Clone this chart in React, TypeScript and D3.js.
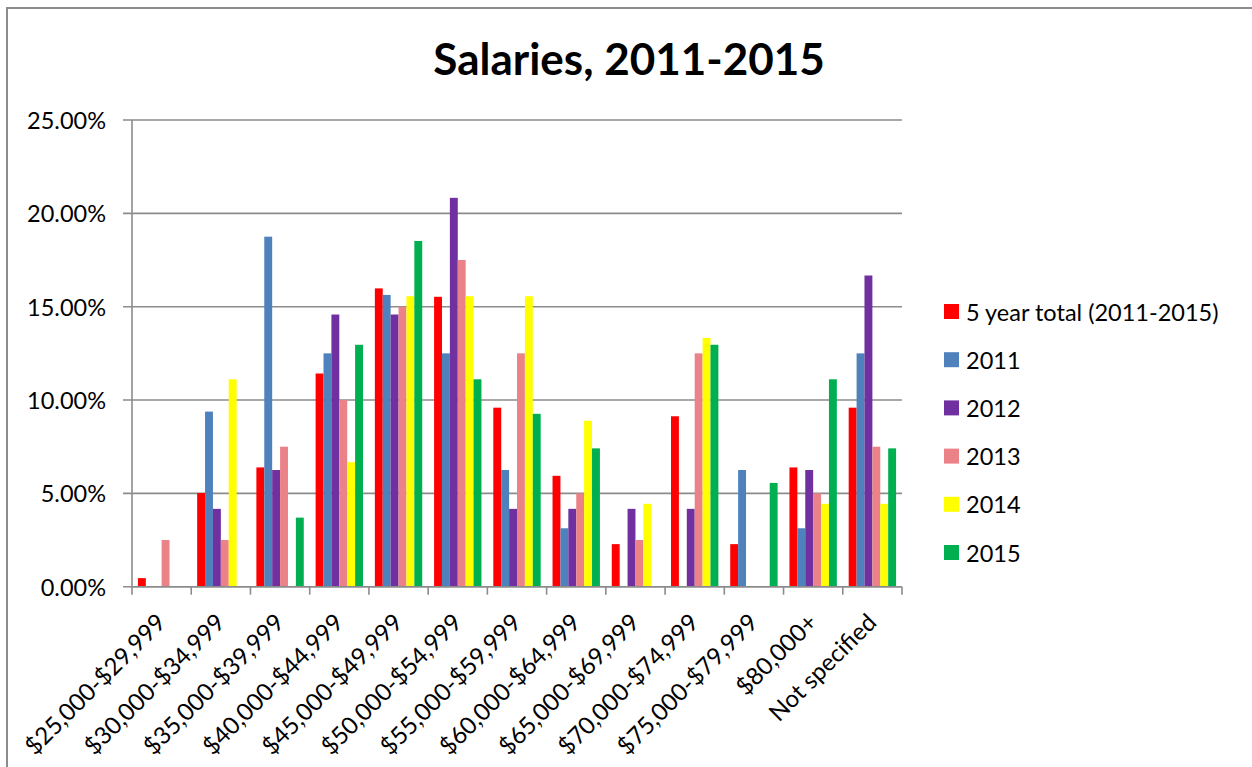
import React from "react";
import * as d3 from "d3";

// salary bands on the x axis
const categories = [
  "$25,000-$29,999",
  "$30,000-$34,999",
  "$35,000-$39,999",
  "$40,000-$44,999",
  "$45,000-$49,999",
  "$50,000-$54,999",
  "$55,000-$59,999",
  "$60,000-$64,999",
  "$65,000-$69,999",
  "$70,000-$74,999",
  "$75,000-$79,999",
  "$80,000+",
  "Not specified",
];

// percentages
const total5yr = [0.46, 5.02, 6.39, 11.42, 15.98, 15.53, 9.59, 5.94, 2.28, 9.13, 2.28, 6.39, 9.59];
const y2011 = [0, 9.38, 18.75, 12.5, 15.63, 12.5, 6.25, 3.13, 0, 0, 6.25, 3.13, 12.5];
const y2012 = [0, 4.17, 6.25, 14.58, 14.58, 20.83, 4.17, 4.17, 4.17, 4.17, 0, 6.25, 16.67];
const y2013 = [2.5, 2.5, 7.5, 10, 15, 17.5, 12.5, 5, 2.5, 12.5, 0, 5, 7.5];
const y2014 = [0, 11.11, 0, 6.67, 15.56, 15.56, 15.56, 8.89, 4.44, 13.33, 0, 4.44, 4.44];
const y2015 = [0, 0, 3.7, 12.96, 18.52, 11.11, 9.26, 7.41, 0, 12.96, 5.56, 11.11, 7.41];

const seriesNames = ["5 year total (2011-2015)", "2011", "2012", "2013", "2014", "2015"];
const seriesColors = ["#FF0000", "#4F81BD", "#7030A0", "#EB8288", "#FFFF00", "#00B050"];
const seriesValues = [total5yr, y2011, y2012, y2013, y2014, y2015];

const yTicks = [0, 5, 10, 15, 20, 25];

const FONT = "Lato, 'Open Sans', sans-serif";
const GRID = "#8c8c8c";

export default function App() {
  const left = 132;
  const right = 902;
  const top = 120;
  const bottom = 586.7;

  const x = d3.scaleBand<string>().domain(categories).range([left, right]);
  const bw = x.bandwidth() / 7.5;
  const xs = d3
    .scaleBand<number>()
    .domain(d3.range(seriesNames.length))
    .range([0.75 * bw, x.bandwidth() - 0.75 * bw]);
  const y = d3.scaleLinear().domain([0, 25]).range([bottom, top]);

  const boundaries = d3.range(categories.length + 1).map((i) => left + i * x.step());

  return (
    <div style={{ position: "absolute", left: 0, top: 0 }}>
      <svg width={1252} height={767} style={{ display: "block", background: "#fff" }}>
        <rect x={7} y={8} width={1300} height={800} fill="#fff" stroke={GRID} strokeWidth={2} />

        <text
          x={629}
          y={75}
          textAnchor="middle"
          fontFamily={FONT}
          fontWeight="bold"
          fontSize={44}
          fill="#000"
        >
          Salaries, 2011-2015
        </text>

        {/* gridlines + y labels */}
        {yTicks.map((t) => (
          <g key={t}>
            <line x1={left - 9} x2={right} y1={y(t)} y2={y(t)} stroke={GRID} strokeWidth={1.6} />
            <text
              x={106}
              y={y(t)}
              textAnchor="end"
              dominantBaseline="central"
              fontFamily={FONT}
              fontSize={23.5}
              fill="#000"
            >
              {t.toFixed(2)}%
            </text>
          </g>
        ))}

        {/* bars */}
        {categories.map((c, ci) => (
          <g key={c} transform={`translate(${x(c)},0)`}>
            {seriesValues.map((vals, si) =>
              vals[ci] > 0 ? (
                <rect
                  key={si}
                  x={xs(si)}
                  y={y(vals[ci])}
                  width={xs.bandwidth()}
                  height={y(0) - y(vals[ci])}
                  fill={seriesColors[si]}
                />
              ) : null
            )}
          </g>
        ))}

        {/* axes */}
        <line x1={left} x2={left} y1={top} y2={bottom} stroke={GRID} strokeWidth={1.6} />
        <line x1={left} x2={right} y1={bottom} y2={bottom} stroke={GRID} strokeWidth={1.6} />
        {boundaries.map((bx, i) => (
          <line key={i} x1={bx} x2={bx} y1={bottom} y2={bottom + 8} stroke={GRID} strokeWidth={1.6} />
        ))}

        {/* x labels */}
        {categories.map((c) => {
          const cx = (x(c) as number) + x.bandwidth() / 2 + 5.5;
          return (
            <text
              key={c}
              transform={`translate(${cx},624) rotate(-45)`}
              textAnchor="end"
              fontFamily={FONT}
              fontSize={24}
              fill="#000"
            >
              {c}
            </text>
          );
        })}

        {/* legend */}
        {seriesNames.map((n, i) => {
          const cy = 311.5 + i * 48.2;
          return (
            <g key={n}>
              <rect x={944} y={cy - 7.5} width={15} height={15} fill={seriesColors[i]} />
              <text
                x={966}
                y={cy}
                dominantBaseline="central"
                fontFamily={FONT}
                fontSize={23.5}
                fill="#000"
              >
                {n}
              </text>
            </g>
          );
        })}
      </svg>
    </div>
  );
}
